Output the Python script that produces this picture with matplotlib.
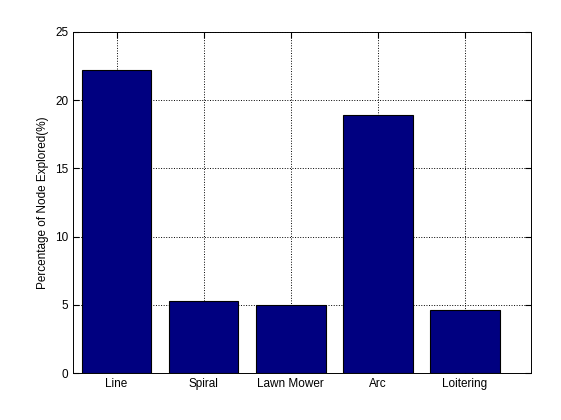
import matplotlib
matplotlib.use("Agg")
import matplotlib.pyplot as plt

plt.rcParams['font.family'] = ['Liberation Sans', 'DejaVu Sans']

# Data
categories = ["Line", "Spiral", "Lawn Mower", "Arc", "Loitering"]
values = [22.2, 5.3, 5.0, 18.9, 4.6]

fig = plt.figure(figsize=(5.61, 4.2), dpi=100)
ax = fig.add_axes([73/561, 1-373/420, (531-73)/561, (373-32)/420])

positions = range(1, len(categories) + 1)
ax.bar(positions, values, width=0.8, color=(0, 0, 0.5), edgecolor="black",
       linewidth=0.8, zorder=3)

ax.set_xlim(0.5, 5.76)
ax.set_ylim(0, 25)
ax.set_xticks(list(positions))
ax.set_xticklabels(categories)
ax.set_yticks(range(0, 26, 5))
ax.set_ylabel("Percentage of Node Explored(%)", fontsize=8.5)
ax.tick_params(labelsize=8.5, direction="in", length=4, top=True, right=True)
ax.grid(True, linestyle=":", color="black", linewidth=0.7, zorder=0)
for s in ax.spines.values():
    s.set_linewidth(0.7)

fig.savefig("out.png", dpi=100)
